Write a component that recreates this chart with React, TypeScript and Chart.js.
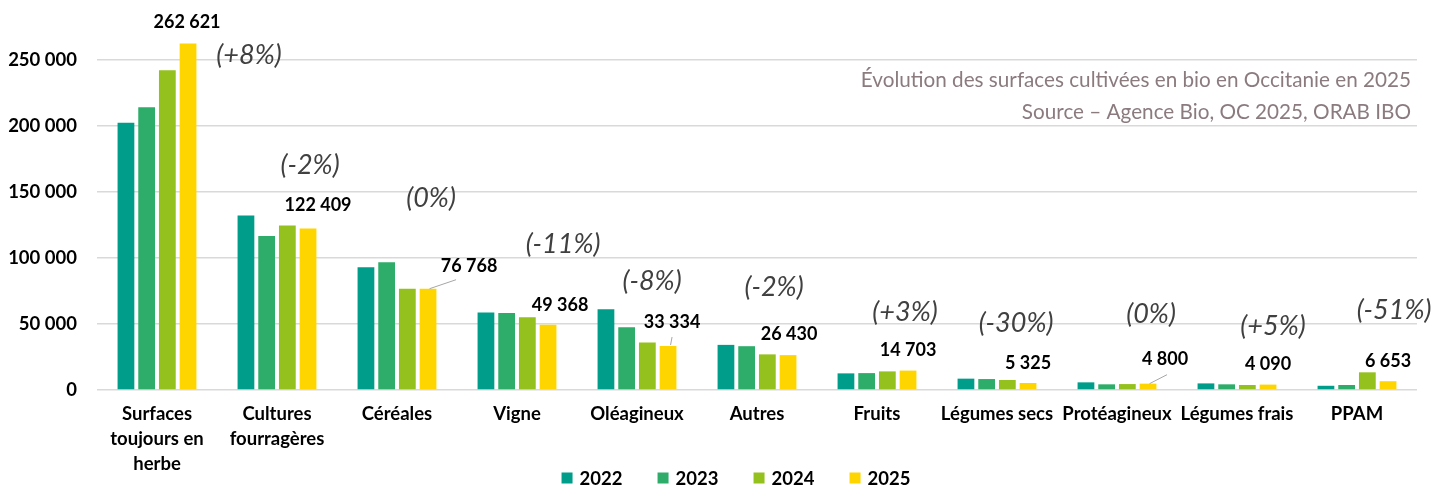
import React, { useEffect, useRef } from "react";
import { Chart, registerables } from "chart.js";

Chart.register(...registerables);

const categories: (string | string[])[] = [
  ["Surfaces", "toujours en", "herbe"],
  ["Cultures", "fourragères"],
  "Céréales",
  "Vigne",
  "Oléagineux",
  "Autres",
  "Fruits",
  "Légumes secs",
  "Protéagineux",
  "Légumes frais",
  "PPAM",
];

const years = ["2022", "2023", "2024", "2025"];

const values2022 = [202500, 132200, 93100, 58700, 61200, 34200, 12600, 8600, 5800, 5000, 3200];
const values2023 = [214300, 116800, 96900, 58400, 47600, 33200, 12800, 8300, 4300, 4300, 3800];
const values2024 = [242400, 124600, 76800, 55100, 36000, 27000, 14100, 7600, 4500, 3800, 13400];
const values2025 = [262621, 122409, 76768, 49368, 33334, 26430, 14703, 5325, 4800, 4090, 6653];

const changeLabels = ["(+8%)", "(-2%)", "(0%)", "(-11%)", "(-8%)", "(-2%)", "(+3%)", "(-30%)", "(0%)", "(+5%)", "(-51%)"];

const titleLines = [
  "Évolution des surfaces cultivées en bio en Occitanie en 2025",
  "Source – Agence Bio, OC 2025, ORAB IBO",
];

const yTickValues = [0, 50000, 100000, 150000, 200000, 250000];

// layout (pixel offsets relative to the top of each 2025 bar)
const valueLabelOffsets = [[-1, -21], [10, -23], [41, -23], [12, -20], [4, -24], [1, -21], [0, -20], [0, -20], [17, -24], [0, -20], [0, -20]];
const changeLabelOffsets = [[61, 12], [2, -63], [3, -90], [15, -81], [-16, -65], [-14, -68], [-3, -58], [-12, -60], [3, -69], [5, -58], [6, -71]];
const leaderLines: Record<number, number[]> = { 2: [1.5, 0, 28, -9], 4: [2.5, -1, 4, -9], 8: [1.5, 0, 19, -9] };

const colors = ["#009E8A", "#2EAD6A", "#95C11F", "#FFD500"];
const FONT = "Lato, 'Noto Sans', sans-serif";

const fmt = (v: number) => String(Math.round(v)).replace(/\B(?=(\d{3})+(?!\d))/g, " ");

const annotationPlugin = {
  id: "annotations",
  afterDatasetsDraw(chart: any) {
    const ctx = chart.ctx;
    const meta = chart.getDatasetMeta(3);
    ctx.save();
    meta.data.forEach((bar: any, i: number) => {
      const [dx, dy] = valueLabelOffsets[i];
      ctx.font = `bold 18px ${FONT}`;
      ctx.fillStyle = "#000000";
      ctx.textAlign = "center";
      ctx.textBaseline = "middle";
      ctx.fillText(fmt(values2025[i]), bar.x + dx, bar.y + dy);
      const [cx, cy] = changeLabelOffsets[i];
      ctx.font = `italic 27px ${FONT}`;
      ctx.fillStyle = "#404040";
      ctx.fillText(changeLabels[i], bar.x + cx, bar.y + cy);
      const l = leaderLines[i];
      if (l) {
        ctx.strokeStyle = "#A6A6A6";
        ctx.lineWidth = 1;
        ctx.beginPath();
        ctx.moveTo(bar.x + l[0], bar.y + l[1]);
        ctx.lineTo(bar.x + l[2], bar.y + l[3]);
        ctx.stroke();
      }
    });
    const area = chart.chartArea;
    ctx.font = `20.7px ${FONT}`;
    ctx.fillStyle = "#8B7B7F";
    ctx.textAlign = "right";
    ctx.textBaseline = "middle";
    ctx.fillText(titleLines[0], area.right - 6, 80);
    ctx.fillText(titleLines[1], area.right - 6, 112);

    // legend
    const pitch = 96;
    ctx.font = `bold 18.5px ${FONT}`;
    const lastW = 11 + 7 + ctx.measureText(years[years.length - 1]).width;
    const total = pitch * (years.length - 1) + lastW;
    let x = 736 - total / 2;
    const ly = 478;
    years.forEach((y, i) => {
      ctx.fillStyle = colors[i];
      ctx.fillRect(x, ly - 5.5, 11, 11);
      ctx.fillStyle = "#000000";
      ctx.textAlign = "left";
      ctx.fillText(y, x + 18, ly + 1);
      x += pitch;
    });
    ctx.restore();
  },
};

export default function App() {
  const ref = useRef<HTMLCanvasElement>(null);
  useEffect(() => {
    document.body.style.margin = "0";
    const data = [values2022, values2023, values2024, values2025];
    const chart = new Chart(ref.current!, {
      type: "bar",
      data: {
        labels: categories,
        datasets: years.map((y, i) => ({
          label: y,
          data: data[i],
          backgroundColor: colors[i],
          borderWidth: 0,
          barPercentage: 0.81,
          categoryPercentage: 0.69,
        })),
      },
      options: {
        animation: false,
        responsive: false,
        devicePixelRatio: 1,
        layout: { padding: { left: 0, right: 31, top: 0, bottom: 0 } },
        plugins: {
          tooltip: { enabled: false },
          legend: { display: false },
        },
        scales: {
          x: {
            grid: { display: false, drawTicks: false },
            border: { display: false },
            ticks: {
              padding: 12,
              color: "#000000",
              maxRotation: 0,
              autoSkip: false,
              font: { family: FONT, size: 18.5, weight: "bold", lineHeight: 1.351 },
            },
            afterFit: (s: any) => { s.height = 96; },
          },
          y: {
            min: 0,
            max: 272000,
            afterBuildTicks: (s: any) => { s.ticks = yTickValues.map((v) => ({ value: v })); },
            grid: { color: "#D9D9D9", lineWidth: 1.5, drawTicks: false },
            border: { display: false },
            ticks: {
              padding: 20,
              color: "#000000",
              font: { family: FONT, size: 18.5, weight: "bold" },
              callback: (v: any) => fmt(Number(v)),
            },
            afterFit: (s: any) => { s.width = 97; },
          },
        },
      },
      plugins: [annotationPlugin],
    });
    return () => chart.destroy();
  }, []);
  return <canvas ref={ref} width={1448} height={486} style={{ display: "block" }} />;
}
